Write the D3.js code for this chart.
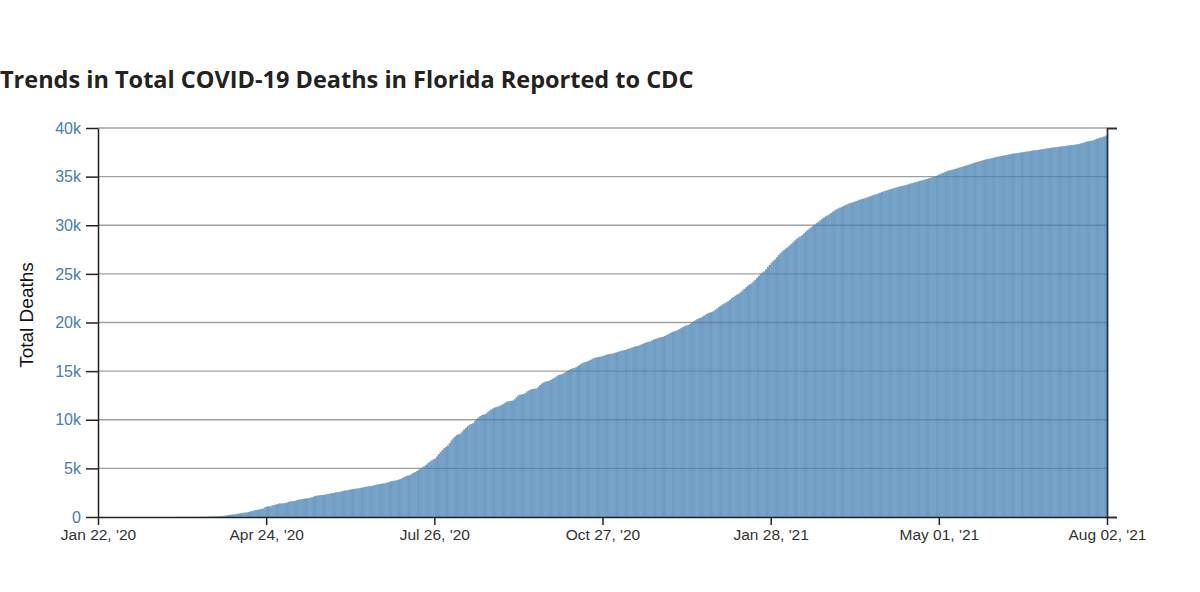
<!DOCTYPE html>
<html>
<head>
<meta charset="utf-8">
<script src="https://cdn.jsdelivr.net/npm/d3@7"></script>
<style>
  html, body { margin: 0; padding: 0; background: #ffffff; }
  svg { display: block; }
</style>
</head>
<body>
<svg id="chart" width="1200" height="592"></svg>
<script>
// ---------------- DATA ----------------
const chartTitle = "Trends in Total COVID-19 Deaths in Florida Reported to CDC";
const yAxisTitle = "Total Deaths";
const firstDay = "2020-01-22";   // first daily value
const lastDay  = "2021-08-02";   // last daily value

// cumulative deaths, one value per day, Jan 22 2020 .. Dec 31 2020
const deaths2020 = [
  // Jan 22-31
  0,0,0,0,0,0,0,0,0,0,
  // Feb
  0,0,0,0,0,0,0,0,0,0,0,0,0,0,0,0,0,0,0,0,0,0,0,0,0,0,0,0,0,
  // Mar
  0,0,0,0,0,2,2,2,2,2,2,2,3,4,5,6,6,7,9,10,12,13,17,22,23,29,35,46,56,63,85,
  // Apr
  100,128,170,195,221,236,254,296,323,354,390,419,438,461,499,571,596,668,712,726,
  764,822,867,987,1055,1074,1088,1171,1218,1268,
  // May
  1314,1364,1379,1390,1423,1471,1539,1600,1618,1628,1669,1721,1779,1827,1849,1875,
  1890,1917,1973,2025,2096,2144,2190,2233,2252,2259,2268,2319,2364,2413,2447,
  // Jun
  2460,2506,2543,2565,2607,2660,2700,2712,2766,2801,2848,2877,2889,2931,2938,2993,
  3018,3061,3104,3144,3161,3173,3238,3281,3327,3366,3390,3419,3447,3505,
  // Jul
  3550,3617,3684,3702,3731,3778,3841,3889,4009,4111,4205,4242,4277,4409,4521,4620,
  4730,4850,4990,5080,5210,5360,5520,5660,5790,5900,6000,6210,6460,6690,6880,
  // Aug
  7080,7200,7330,7580,7850,8060,8250,8420,8500,8570,8780,8980,9150,9320,9480,9560,
  9640,9860,10060,10220,10370,10480,10530,10590,10760,10920,11040,11150,11250,11290,11350,
  // Sep
  11440,11530,11640,11750,11860,11900,11930,11960,12100,12300,12480,12560,12600,12640,12760,
  12900,13000,13100,13150,13170,13200,13380,13560,13700,13800,13900,13950,13990,14090,14200,
  // Oct
  14300,14420,14560,14620,14660,14750,14880,14990,15100,15200,15280,15310,15400,15520,15640,
  15760,15850,15920,15960,16050,16150,16250,16330,16390,16420,16450,16500,16560,16620,16680,16730,
  // Nov
  16760,16790,16840,16900,16960,17020,17080,17120,17150,17210,17280,17350,17420,17490,17540,
  17570,17640,17720,17800,17880,17950,18000,18050,18150,18250,18300,18370,18440,18480,18520,
  // Dec
  18600,18700,18800,18900,19000,19060,19110,19200,19310,19420,19530,19620,19680,19740,19850,
  19980,20100,20220,20330,20420,20480,20590,20720,20850,20960,21000,21060,21150,21300,21440,21600
];

// cumulative deaths, one value per day, Jan 1 2021 .. Aug 2 2021
const deaths2021 = [
  // Jan
  21700,21830,21950,22050,22180,22330,22480,22620,22750,22850,22950,23100,23280,23450,23620,
  23780,23900,24000,24180,24380,24580,24780,24970,25120,25250,25480,25700,25920,26130,26330,26480,
  // Feb
  26700,26920,27120,27300,27460,27600,27720,27900,28080,28260,28430,28590,28730,28850,
  28980,29150,29330,29500,29650,29790,29920,30050,30200,30350,30500,30650,30780,30900,
  // Mar
  31000,31120,31250,31380,31500,31620,31720,31800,31880,31970,32060,32150,32230,32290,32340,
  32410,32480,32550,32620,32680,32730,32790,32860,32930,33000,33070,33130,33180,33250,33330,33400,
  // Apr
  33460,33530,33590,33640,33690,33750,33810,33870,33920,33980,34020,34060,34110,34160,34210,
  34270,34330,34380,34420,34480,34540,34590,34650,34700,34750,34810,34870,34930,34990,35060,
  // May
  35140,35220,35300,35390,35470,35540,35600,35650,35700,35750,35800,35860,35920,35980,36040,
  36100,36150,36210,36270,36330,36390,36450,36510,36570,36620,36670,36720,36770,36810,36850,36890,
  // Jun
  36940,36990,37030,37070,37110,37140,37170,37210,37250,37290,37330,37360,37390,37410,37440,
  37470,37500,37530,37560,37590,37610,37640,37670,37700,37730,37750,37780,37810,37840,37870,
  // Jul
  37900,37930,37960,37990,38010,38030,38050,38080,38110,38140,38160,38180,38200,38220,38250,
  38280,38310,38340,38380,38440,38500,38560,38620,38650,38680,38720,38800,38880,38940,39000,39060,
  // Aug
  39120,39200
];

const yTickValues = [0, 5000, 10000, 15000, 20000, 25000, 30000, 35000, 40000];
const xTickDates = ["2020-01-22", "2020-04-24", "2020-07-26", "2020-10-27", "2021-01-28", "2021-05-01", "2021-08-02"];

// ---------------- CHART ----------------
const svg = d3.select("#chart");
const parse = d3.utcParse("%Y-%m-%d");
const startDate = parse(firstDay);
const endDate = parse(lastDay);

const values = deaths2020.concat(deaths2021);
const data = values.map((v, i) => ({ date: d3.utcDay.offset(startDate, i), value: v }));

const plot = { left: 98, right: 1107, top: 128, bottom: 517 };

const x = d3.scaleUtc().domain([startDate, endDate]).range([plot.left, plot.right]);
const y = d3.scaleLinear().domain([0, 40000]).range([plot.bottom, plot.top]);

// title
svg.append("text")
  .attr("x", 0).attr("y", 88)
  .attr("font-family", "'Open Sans', sans-serif")
  .attr("font-weight", 700)
  .attr("font-size", 23.5)
  .attr("fill", "#222")
  .text(chartTitle);

// gridlines
svg.append("g")
  .selectAll("line")
  .data(yTickValues.filter(v => v > 0))
  .join("line")
  .attr("x1", plot.left).attr("x2", plot.right)
  .attr("y1", d => y(d)).attr("y2", d => y(d))
  .attr("stroke", "#a0a0a0")
  .attr("stroke-width", 1.3);

// bars
svg.append("g")
  .selectAll("rect")
  .data(data.filter(d => d.value > 0))
  .join("rect")
  .attr("x", d => x(d3.utcDay.offset(d.date, -1)))
  .attr("width", d => x(d.date) - x(d3.utcDay.offset(d.date, -1)))
  .attr("y", d => y(d.value))
  .attr("height", d => y(0) - y(d.value))
  .attr("fill", "steelblue")
  .attr("fill-opacity", 0.75)
  .attr("stroke", "#4f82b0")
  .attr("stroke-opacity", 0.35)
  .attr("stroke-width", 0.4);

// left y axis
const yAxis = svg.append("g")
  .attr("transform", `translate(${plot.left},0)`)
  .call(d3.axisLeft(y)
    .tickValues(yTickValues)
    .tickSize(12)
    .tickSizeOuter(0)
    .tickPadding(5)
    .tickFormat(d => d === 0 ? "0" : (d / 1000) + "k"));
yAxis.selectAll("path, line").attr("stroke", "#222").attr("stroke-width", 1.5);
yAxis.selectAll("text")
  .attr("font-family", "'Liberation Sans', Arial, sans-serif")
  .attr("font-size", 16)
  .attr("fill", "#4a7db0");

// right frame axis (no labels)
const rAxis = svg.append("g")
  .attr("transform", `translate(${plot.right},0)`)
  .call(d3.axisRight(y).tickValues([]).tickSizeOuter(10));
rAxis.selectAll("path").attr("stroke", "#333").attr("stroke-width", 1.8);

// bottom x axis
const xAxis = svg.append("g")
  .attr("transform", `translate(0,${plot.bottom})`)
  .call(d3.axisBottom(x)
    .tickValues(xTickDates.map(parse))
    .tickSize(8)
    .tickSizeOuter(0)
    .tickPadding(4)
    .tickFormat(d3.utcFormat("%b %d, '%y")));
xAxis.selectAll("path, line").attr("stroke", "#222").attr("stroke-width", 1.5);
xAxis.selectAll("text")
  .attr("font-family", "'Liberation Sans', Arial, sans-serif")
  .attr("font-size", 15.5)
  .attr("fill", "#333");

// y axis title
svg.append("text")
  .attr("transform", "translate(33,315) rotate(-90)")
  .attr("text-anchor", "middle")
  .attr("font-family", "'Liberation Sans', Arial, sans-serif")
  .attr("font-size", 19)
  .attr("fill", "#111")
  .text(yAxisTitle);
</script>
</body>
</html>
